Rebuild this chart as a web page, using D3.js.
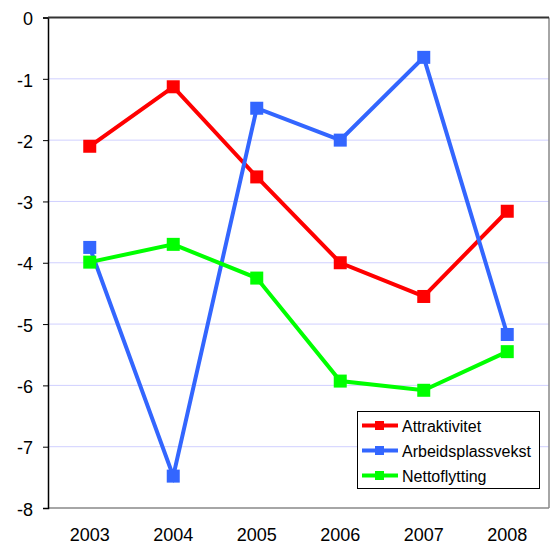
<!DOCTYPE html>
<html><head><meta charset="utf-8">
<script src="https://cdn.jsdelivr.net/npm/d3@7"></script>
<style>body{margin:0;background:#fff}svg{display:block;font-family:"Liberation Sans",Arial,sans-serif}</style>
</head><body><svg id="c" width="550" height="545"></svg>
<script>
const years = ["2003","2004","2005","2006","2007","2008"];
const attraktivitet = [-2.1, -1.13, -2.6, -4.0, -4.55, -3.16];
const arbeidsplassvekst = [-3.75, -7.48, -1.48, -2.0, -0.65, -5.17];
const nettoflytting = [-3.99, -3.7, -4.25, -5.93, -6.08, -5.45];
const yTicks = [0, -1, -2, -3, -4, -5, -6, -7, -8];
const seriesNames = ["Attraktivitet", "Arbeidsplassvekst", "Nettoflytting"];
const seriesColors = ["#ff0000", "#3366ff", "#00ff00"];
const seriesData = [attraktivitet, arbeidsplassvekst, nettoflytting];

const svg = d3.select("#c");
const L = 48, R = 549, T = 17.5, B = 508;
const x = d3.scaleBand().domain(years).range([L, R]);
const y = d3.scaleLinear().domain([0, -8]).range([T, B]);

// gridlines
svg.append("g").selectAll("line").data(yTicks.filter(d => d !== 0 && d !== -8)).join("line")
  .attr("x1", L).attr("x2", R).attr("y1", d => y(d)).attr("y2", d => y(d))
  .attr("stroke", "#d0d0ff").attr("stroke-width", 1);
// right & bottom border
svg.append("line").attr("x1", R).attr("x2", R).attr("y1", T).attr("y2", B).attr("stroke", "#888").attr("stroke-width", 1.5);
svg.append("line").attr("x1", L).attr("x2", R).attr("y1", B).attr("y2", B).attr("stroke", "#888").attr("stroke-width", 1.5);

// y axis
const ya = svg.append("g").attr("transform", `translate(${L},0)`)
  .call(d3.axisLeft(y).tickValues(yTicks).tickSize(5).tickPadding(10).tickFormat(d => String(d)));
ya.select(".domain").attr("stroke", "#000").attr("stroke-width", 1.5);
ya.selectAll(".tick line").attr("stroke", "#000");
ya.selectAll("text").attr("font-size", 18).attr("fill", "#000").style("font-family", "inherit").attr("dy", "0.4em");

// x axis (at 0, top)
svg.append("line").attr("x1", L).attr("x2", R).attr("y1", T).attr("y2", T).attr("stroke", "#333").attr("stroke-width", 2);
svg.append("g").selectAll("text").data(years).join("text")
  .attr("x", d => x(d) + x.bandwidth() / 2).attr("y", 541)
  .attr("text-anchor", "middle").attr("font-size", 18).attr("fill", "#000").text(d => d);

const line = d3.line().x((d, i) => x(years[i]) + x.bandwidth() / 2).y(d => y(d));
seriesData.forEach((s, k) => {
  const g = svg.append("g");
  g.append("path").datum(s).attr("d", line).attr("fill", "none")
    .attr("stroke", seriesColors[k]).attr("stroke-width", 4);
  g.selectAll("rect").data(s).join("rect")
    .attr("x", (d, i) => x(years[i]) + x.bandwidth() / 2 - 6.5)
    .attr("y", d => y(d) - 6.5).attr("width", 13).attr("height", 13)
    .attr("fill", seriesColors[k]);
});

// legend
const lg = svg.append("g");
lg.append("rect").attr("x", 357.5).attr("y", 411.5).attr("width", 182).attr("height", 77)
  .attr("fill", "#fff").attr("stroke", "#000").attr("stroke-width", 1);
seriesNames.forEach((n, k) => {
  const yy = 425.5 + k * 25;
  lg.append("line").attr("x1", 362).attr("x2", 398).attr("y1", yy).attr("y2", yy)
    .attr("stroke", seriesColors[k]).attr("stroke-width", 4);
  lg.append("rect").attr("x", 375).attr("y", yy - 4.5).attr("width", 9).attr("height", 9).attr("fill", seriesColors[k]);
  lg.append("text").attr("x", 402).attr("y", yy + 6).attr("font-size", 16).attr("fill", "#000").text(n);
});
</script></body></html>
